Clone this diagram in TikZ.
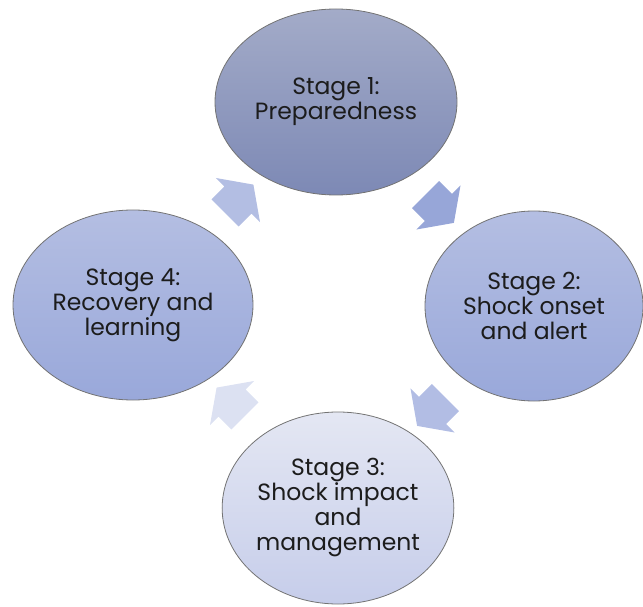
\documentclass[tikz,border=0pt]{standalone}
\usepackage{fontspec}
\setmainfont{Poppins}
\usetikzlibrary{positioning}
\usetikzlibrary{shapes.geometric,shapes.arrows}
\usetikzlibrary{calc}
\definecolor{sonetop}{HTML}{A3ABC8}
\definecolor{sonebot}{HTML}{7D89B5}
\definecolor{stwotop}{HTML}{B4BEE2}
\definecolor{stwobot}{HTML}{99A8DA}
\definecolor{sthreetop}{HTML}{E4E7F3}
\definecolor{sthreebot}{HTML}{C6CDEA}
\definecolor{sfourtop}{HTML}{B4BEE2}
\definecolor{sfourbot}{HTML}{99A8DA}
\definecolor{aone}{HTML}{97A6D8}
\definecolor{atwo}{HTML}{B2BDE4}
\definecolor{athree}{HTML}{DCE1F2}
\definecolor{afour}{HTML}{B3BEE3}
\definecolor{stagetext}{HTML}{1C1C1C}
\tikzstyle{stage}=[ellipse,draw=black!55,line width=0.8pt,inner sep=0pt,align=center,text=stagetext,font=\fontsize{23.5}{25}\selectfont]
\tikzstyle{cyclearrow}=[single arrow,draw=none,inner xsep=0pt,inner ysep=19pt,minimum height=40pt,single arrow head extend=12pt,single arrow tip angle=110]

\begin{document}
\begin{tikzpicture}[x=1pt,y=-1pt]
\useasboundingbox (0,0) rectangle (643,607);

    % First we draw the stages
    \foreach \pos/\name/\w/\h/\top/\bot/\label in {{(336,102)/S1/242pt/186pt/sonetop/sonebot/{Stage 1:\\Preparedness}}, {(534,306)/S2/218pt/190pt/stwotop/stwobot/{Stage 2:\\Shock onset\\and alert}}, {(338,508)/S3/226pt/192pt/sthreetop/sthreebot/{Stage 3:\\Shock impact\\and\\management}}, {(133,305)/S4/240pt/190pt/sfourtop/sfourbot/{Stage 4:\\Recovery and\\learning}}}
        \node[stage, minimum width=\w, minimum height=\h, top color=\top, bottom color=\bot] (\name) at \pos {\label};

    % Then the arrows between the stages
  \foreach \source/ \dest /\dir/\col in {S1/S2/-45/aone, S2/S3/-135/atwo, S3/S4/135/athree, S4/S1/45/afour}
          \node[cyclearrow, rotate=\dir, fill=\col] (A\source) at ($(\source)!0.5!(\dest)$) {};

\end{tikzpicture}
\end{document}
